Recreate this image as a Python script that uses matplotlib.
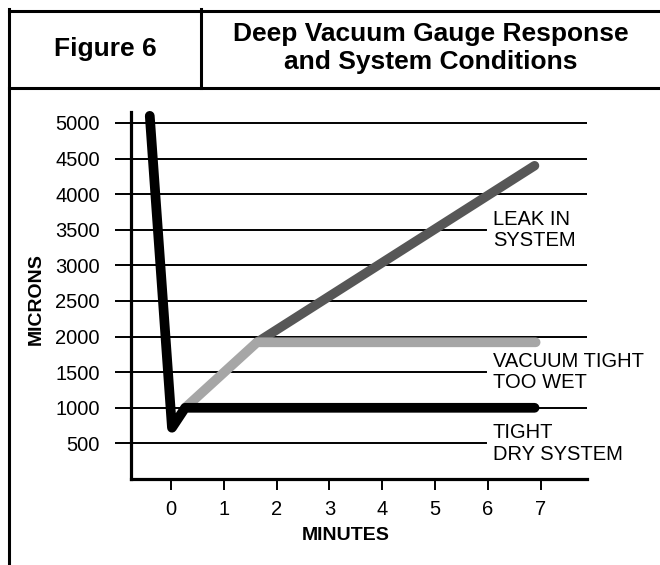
import matplotlib
matplotlib.use("Agg")
import matplotlib.pyplot as plt
from matplotlib.lines import Line2D

plt.rcParams['font.family'] = ['Liberation Sans', 'DejaVu Sans']

# data (minutes, microns)
tight_x = [-0.40, 0.02, 0.27, 6.88]
tight_y = [5100, 720, 1000, 1000]
wet_x = [0.27, 1.63, 6.9]
wet_y = [1000, 1920, 1920]
leak_x = [1.63, 6.88]
leak_y = [1920, 4400]

y_ticks = [500, 1000, 1500, 2000, 2500, 3000, 3500, 4000, 4500, 5000]
x_ticks = [0, 1, 2, 3, 4, 5, 6, 7]
labels = ["LEAK IN\nSYSTEM", "VACUUM TIGHT\nTOO WET", "TIGHT\nDRY SYSTEM"]
label_levels = [3500, 1500, 500]

W, H = 660, 565
fig = plt.figure(figsize=(W / 100, H / 100), dpi=100)


def px(x, y):
    return x / W, 1 - y / H


# header frame
def fline(x0, y0, x1, y1):
    (a, b), (c, d) = px(x0, y0), px(x1, y1)
    fig.add_artist(Line2D([a, c], [b, d], transform=fig.transFigure,
                          color='black', lw=2.2, solid_capstyle='projecting'))


fline(9, 11, 660, 11)
fline(9, 88, 660, 88)
fline(9, 9, 9, 565)
fline(201, 9, 201, 88)

fig.text(*px(105, 49), "Figure 6", ha='center', va='center',
         fontsize=19, fontweight='bold')
fig.text(*px(431, 48), "Deep Vacuum Gauge Response\nand System Conditions",
         ha='center', va='center', fontsize=19, fontweight='bold',
         linespacing=1.2)

# plot area
left, right, top, bottom = 131, 587, 112, 479
ax = fig.add_axes([left / W, 1 - bottom / H, (right - left) / W, (bottom - top) / H])
ax.set_xlim(-0.755, 7.872)
ax.set_ylim(0, 5154)

for s in ['top', 'right']:
    ax.spines[s].set_visible(False)
for s in ['left', 'bottom']:
    ax.spines[s].set_linewidth(2.3)
    ax.spines[s].set_capstyle('projecting')

ax.set_yticks(y_ticks)
ax.set_xticks(x_ticks)
ax.tick_params(axis='y', direction='out', length=11.5, width=1.4, pad=11,
               labelsize=14.5)
ax.tick_params(axis='x', direction='out', length=8, width=1.4, pad=7,
               labelsize=14.5)

# grid lines, broken where the labels sit
for yv in y_ticks:
    xmax = 5.97 if yv in label_levels else 7.872
    ax.plot([-0.755, xmax], [yv, yv], color='black', lw=1.4, zorder=1)

ax.plot(leak_x, leak_y, color='#575757', lw=6.8, solid_capstyle='round',
        solid_joinstyle='round', zorder=3)
ax.plot(wet_x, wet_y, color='#a6a6a6', lw=7, solid_capstyle='round',
        solid_joinstyle='round', zorder=4)
ax.plot(tight_x, tight_y, color='black', lw=7, solid_capstyle='round',
        solid_joinstyle='round', zorder=5, clip_on=False)

for txt, lv in zip(labels, label_levels):
    ax.text(6.09, lv, txt, ha='left', va='center', fontsize=14.5,
            linespacing=1.17)

fig.text(*px(36, 299), "MICRONS", rotation=90, ha='center', va='center',
         fontsize=14, fontweight='bold')
fig.text(*px(346, 535), "MINUTES", ha='center', va='center',
         fontsize=14, fontweight='bold')

fig.savefig("out.png", dpi=100)
